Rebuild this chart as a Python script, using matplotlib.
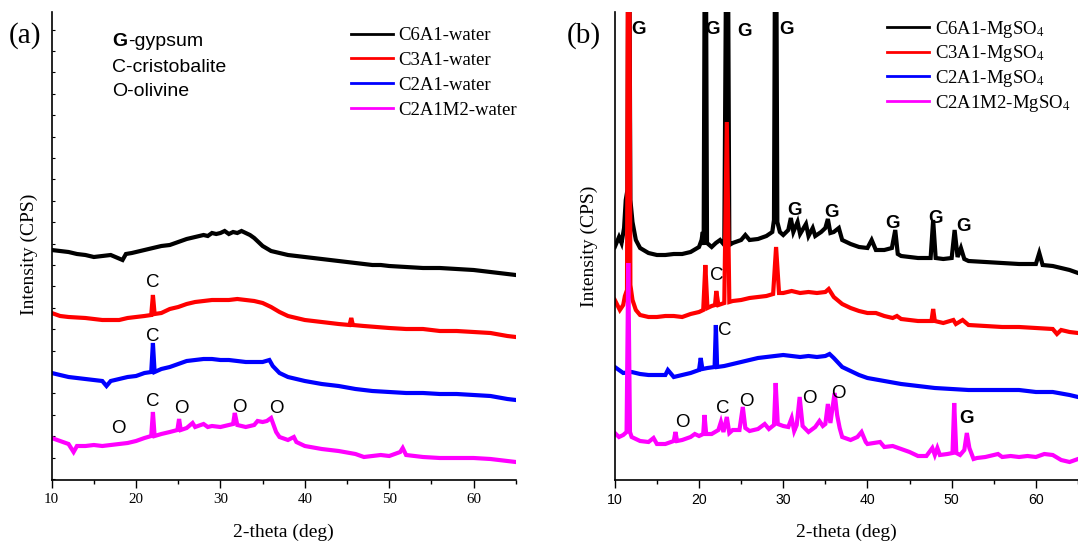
import numpy as np
import matplotlib
matplotlib.use('Agg')
import matplotlib.pyplot as plt

plt.rcParams['font.family'] = 'Liberation Serif'
plt.rcParams['mathtext.fontset'] = 'stix'

# ---- data (intensity in arbitrary units) ----
a_black_x = [10, 11, 12, 13, 14, 15, 16, 17, 18.4, 18.8, 19.5, 20, 21, 22, 23, 24, 25, 26, 27, 28, 28.5, 29, 29.5, 30, 30.5,
             31, 31.5, 32, 32.5, 33, 33.5, 34, 34.5, 35, 36, 37, 38, 39, 40, 41, 42, 43, 44, 45, 46, 47, 48, 49, 50,
             52, 54, 56, 58, 60, 62, 63, 64, 65]
a_black_y = [230, 229, 228, 226, 225, 223, 224, 225, 220, 226, 227, 228, 230, 232, 234, 235, 238, 241, 243, 245, 244, 247, 246, 247, 249,
             246, 248, 247, 249, 247, 245, 242, 238, 234, 229, 227, 225, 224, 223, 222, 221, 220, 219, 218, 217, 216, 215, 215, 214,
             213, 212, 212, 211, 210, 208, 207, 206, 205]

a_red_x = [10, 11, 12, 14, 16, 18, 19, 20, 21, 21.8, 22.0, 22.2, 23, 24, 25, 26, 27, 28, 29, 30, 31, 32, 33, 34, 35,
           36, 37, 38, 40, 42, 44, 45.3, 45.5, 45.7, 47, 50, 52, 54, 56, 58, 60, 62, 64, 65]
a_red_y = [167, 164, 163, 162, 160, 160, 162, 163, 164, 165, 185, 166, 167, 171, 173, 176, 178, 179, 180, 180, 180, 181, 180, 179, 177,
           173, 168, 164, 160, 158, 156, 155, 162, 155, 154, 152, 151, 151, 149, 149, 148, 147, 144, 143]

a_blue_x = [10, 11, 12, 13, 14, 15, 16, 16.5, 17, 18, 19, 20, 21, 21.8, 22.0, 22.2, 23, 24, 25, 26, 27, 28, 29, 30,
            31, 32, 33, 34, 35, 35.8, 36.2, 37, 38, 40, 42, 44, 46, 48, 50, 52, 54, 56, 58, 60, 62, 64, 65]
a_blue_y = [107, 105, 103, 102, 101, 100, 99, 94, 99, 101, 103, 104, 107, 108, 137, 108, 111, 113, 116, 119, 120, 121, 121, 120,
            120, 119, 118, 118, 118, 120, 114, 107, 103, 99, 96, 94, 91, 89, 88, 87, 87, 86, 86, 85, 84, 81, 80]

a_mag_x = [10, 11, 12, 12.6, 13, 14, 15, 16, 17, 18, 19, 20, 21, 21.8, 22.0, 22.2, 23, 24, 24.9, 25.1, 25.3, 26, 26.7,
           27, 28, 28.5, 29, 30, 31, 31.5, 31.7, 32, 33, 34, 34.4, 35, 35.5, 36.0, 36.3, 36.6, 37, 38, 38.7, 39, 40,
           42, 44, 46, 47, 48, 49, 50, 51.3, 51.6, 52, 54, 56, 58, 60, 62, 64, 65]
a_mag_y = [42, 39, 36, 28, 34, 34, 35, 34, 35, 36, 37, 39, 42, 44, 68, 44, 46, 48, 50, 61, 50, 52, 57,
           53, 56, 53, 54, 53, 55, 56, 67, 55, 53, 55, 59, 58, 59, 62, 55, 48, 43, 40, 43, 38, 34,
           31, 29, 26, 23, 24, 25, 24, 28, 32, 25, 23, 22, 22, 22, 21, 19, 18]

b_black_x = [10, 10.5, 10.8, 11.1, 11.3, 11.5, 11.65, 11.85, 12.1, 12.5, 13, 14, 15, 16, 17, 18, 19, 20, 20.3, 20.45,
             20.55, 20.75, 20.95, 21.5, 22, 22.5, 23, 23.35, 23.6, 24, 25, 25.5, 26, 27, 28, 28.7, 28.9, 29.1, 29.3,
             29.6, 30, 30.6, 30.9, 31.2, 31.7, 32, 32.7, 33, 33.5, 33.8, 34.5, 35, 35.3, 35.6, 36, 36.6, 37, 38, 39,
             40, 40.5, 41, 42, 42.9, 43.3, 43.6, 44, 45, 46, 47.5, 47.8, 48.1, 49, 50, 50.35, 50.7, 51.1, 51.5, 52,
             54, 56, 58, 60, 60.4, 60.8, 62, 63, 64, 65]
b_black_y = [233, 243, 237, 252, 280, 290, 700, 280, 258, 240, 232, 227, 225, 225, 226, 226, 228, 233, 240, 248,
             235, 700, 237, 233, 237, 240, 235, 700, 235, 237, 240, 245, 240, 241, 244, 248, 260, 700, 258,
             248, 245, 250, 262, 248, 258, 246, 256, 244, 252, 244, 248, 252, 261, 247, 248, 252, 240, 236, 233,
             232, 240, 230, 230, 232, 250, 226, 224, 223, 222, 222, 260, 222, 221, 222, 250, 223, 232, 221, 219,
             218, 217, 216, 216, 227, 215, 214, 212, 210, 207]

b_red_x = [10, 10.3, 10.6, 11.0, 11.2, 11.45, 11.65, 11.85, 12.1, 12.5, 13, 14, 15, 16, 17, 18, 19, 20, 20.5, 20.75,
           21.0, 21.5, 21.9, 22.05, 22.3, 23.0, 23.3, 23.6, 24, 25, 26, 27, 28, 28.8, 29.15, 29.5, 30, 31, 32, 33,
           34, 35, 35.4, 36, 37, 38, 39, 40, 41, 42, 43, 43.5, 44, 46, 47.6, 47.8, 48.0, 49, 50.2, 50.5, 51.3, 52,
           54, 56, 58, 60, 62, 62.5, 63, 64, 65]
b_red_y = [180, 175, 170, 175, 184, 190, 800, 195, 180, 170, 165, 163, 163, 164, 164, 163, 166, 168, 170, 215,
           172, 174, 175, 189, 175, 177, 358, 178, 179, 180, 182, 183, 184, 186, 233, 187, 187, 189, 187, 188,
           187, 188, 191, 183, 176, 172, 169, 167, 167, 164, 162, 164, 161, 159, 159, 171, 159, 157, 160, 156, 160, 155,
           154, 153, 153, 152, 151, 146, 150, 148, 147]

b_blue_x = [10, 10.5, 11, 12, 13, 14, 15, 16, 16.3, 17, 18, 19, 20, 20.2, 20.4, 21, 21.85, 22.0, 22.15, 23, 24, 25,
            26, 27, 28, 29, 30, 31, 32, 33, 34, 35, 35.5, 36, 37, 38, 39, 40, 42, 44, 46, 48, 50, 52, 54, 56, 58,
            60, 62, 64, 65]
b_blue_y = [113, 110, 107, 108, 106, 105, 105, 105, 110, 103, 105, 107, 110, 122, 111, 112, 113, 155, 113, 114, 116, 118,
            120, 122, 123, 124, 125, 124, 123, 124, 123, 124, 126, 122, 113, 109, 105, 102, 99, 96, 94, 92, 91, 90, 90, 90, 90,
            88, 88, 85, 83]

b_mag_x = [10, 10.5, 11, 11.4, 11.6, 11.8, 12, 13, 14, 14.6, 15, 16, 17, 17.2, 17.4, 18, 19, 19.5, 20, 20.5, 20.65,
           20.85, 21.5, 22.3, 22.6, 22.9, 23.3, 23.6, 24, 24.8, 25.2, 25.5, 26, 27, 27.8, 28.3, 28.9, 29.1, 29.35, 30,
           30.6, 31.0, 31.3, 31.6, 31.95, 32.3, 33, 33.8, 34.3, 34.7, 35.0, 35.3, 35.6, 36.1, 36.4, 36.7, 37.0, 38,
           38.8, 39.3, 39.8, 40, 41.5, 42, 43, 44, 45, 46, 47, 47.7, 48.0, 48.3, 48.6, 49.5, 50.1, 50.3, 50.55, 51,
           51.5, 51.8, 52.1, 52.6, 53, 54, 55, 55.5, 56, 57, 58, 59, 60, 61, 62, 63, 64, 65]
b_mag_y = [47, 43, 45, 48, 217, 48, 43, 39, 38, 42, 36, 36, 39, 48, 39, 40, 43, 46, 44, 46, 65,
           46, 46, 50, 58, 48, 63, 47, 50, 50, 73, 52, 49, 51, 56, 51, 55, 97, 56, 54,
           53, 62, 49, 55, 83, 54, 48, 53, 59, 54, 56, 76, 57, 87, 65, 52, 43, 40,
           43, 48, 38, 36, 38, 33, 34, 31, 28, 24, 24, 32, 25, 32, 25, 26, 27, 77, 27, 25,
           30, 47, 32, 21, 22, 23, 25, 26, 23, 24, 23, 24, 23, 26, 25, 20, 18, 21]

colors = ['black', '#ff0000', '#0000ff', '#ff00ff']
a_labels = ['C6A1-water', 'C3A1-water', 'C2A1-water', 'C2A1M2-water']
b_labels = ['C6A1-MgSO$_4$', 'C3A1-MgSO$_4$', 'C2A1-MgSO$_4$', 'C2A1M2-MgSO$_4$']

# peak markers: (x, y, text, bold)
a_marks = [(21.96, 193, 'C', False), (21.96, 139, 'C', False), (17.9, 47, 'O', False),
           (22.0, 74, 'C', False), (25.4, 67, 'O', False), (32.2, 68, 'O', False), (36.6, 67, 'O', False)]
b_marks = [(12.87, 446, 'G', True), (21.64, 446, 'G', True), (25.44, 444, 'G', True), (30.38, 446, 'G', True),
           (31.36, 265, 'G', True), (35.75, 263, 'G', True), (43.03, 252, 'G', True), (48.12, 257, 'G', True),
           (51.37, 249, 'G', True), (22.08, 200, 'C', False), (23.1, 145, 'C', False), (18.01, 53, 'O', False),
           (22.77, 67, 'C', False), (25.58, 74, 'O', False), (33.07, 77, 'O', False), (36.53, 82, 'O', False),
           (51.78, 57, 'G', True)]

W, H = 1078, 543
fig = plt.figure(figsize=(W / 100, H / 100), dpi=100)
ax1 = fig.add_axes([51.65 / W, 63.5 / H, 464.15 / W, 467.5 / H])
ax2 = fig.add_axes([614.8 / W, 63.5 / H, 463.2 / W, 467.5 / H])

panels = [
    (ax1, [(a_black_x, a_black_y), (a_red_x, a_red_y), (a_blue_x, a_blue_y), (a_mag_x, a_mag_y)], a_labels, a_marks),
    (ax2, [(b_black_x, b_black_y), (b_red_x, b_red_y), (b_blue_x, b_blue_y), (b_mag_x, b_mag_y)], b_labels, b_marks),
]

for ax, series, labels, marks in panels:
    for (x, y), c, lab in zip(series, colors, labels):
        ax.plot(x, y, color=c, lw=3, label=lab, solid_joinstyle='miter')
    for x, y, t, bold in marks:
        ax.text(x, y, t, ha='center', va='baseline', fontsize=13.5, family='Liberation Sans',
                fontweight='bold' if bold else 'normal')
    ax.set_xlim(10, 65)
    ax.set_ylim(0.5, 468)
    for s in ['top', 'right']:
        ax.spines[s].set_visible(False)
    for s in ['left', 'bottom']:
        ax.spines[s].set_linewidth(1.2)
    ax.set_xticks([10, 20, 30, 40, 50, 60])
    ax.set_xticks([15, 25, 35, 45, 55, 65], minor=True)
    ax.tick_params(axis='x', which='major', direction='out', length=5.5, width=1, pad=4)
    ax.tick_params(axis='x', which='minor', direction='out', length=3, width=1)

# left panel: serif tick labels, small inward y ticks
ax1.set_yticks(np.arange(1, 468, 21.4))
ax1.tick_params(axis='y', direction='in', length=2, width=0.8, labelleft=False)
for lbl in ax1.get_xticklabels():
    lbl.set_fontsize(10.8)
ax2.set_yticks([])
for lbl in ax2.get_xticklabels():
    lbl.set_fontsize(10.2)
    lbl.set_family('Liberation Sans')

# legends
for ax, anchor, spacing in [(ax1, (0.644, 0.968), 0.41), (ax2, (0.587, 0.986), 0.2)]:
    leg = ax.legend(loc='upper left', bbox_to_anchor=anchor, frameon=False, fontsize=13.5,
                    handlelength=2.25, handletextpad=0.3, labelspacing=spacing, borderpad=0, borderaxespad=0)
    for ln in leg.get_lines():
        ln.set_linewidth(2)

# mineral key in panel (a)
ax1.text(17.14, 438, 'G', ha='left', va='center', fontsize=14, family='Liberation Sans', fontweight='bold')
ax1.text(19.05, 438, '-gypsum', ha='left', va='center', fontsize=14, family='Liberation Sans')
ax1.text(17.14, 413, 'C-cristobalite', ha='left', va='center', fontsize=14, family='Liberation Sans')
ax1.text(17.14, 389, 'O-olivine', ha='left', va='center', fontsize=14, family='Liberation Sans')

# axis labels and panel tags
for xc, yc in [(283.7, 532.7), (846.7, 532.7)]:
    fig.text(xc / W, 1 - yc / H, '2-theta (deg)', ha='center', va='center', fontsize=14)
fig.text(29.3 / W, 1 - 254 / H, 'Intensity (CPS)', ha='center', va='center', rotation=90, fontsize=14)
fig.text(589.8 / W, 1 - 246.7 / H, 'Intensity (CPS)', ha='center', va='center', rotation=90, fontsize=14)
fig.text(24.5 / W, 1 - 35.5 / H, '(a)', ha='center', va='center', fontsize=21)
fig.text(583.7 / W, 1 - 35.5 / H, '(b)', ha='center', va='center', fontsize=21)

fig.savefig('out.png', dpi=100)
